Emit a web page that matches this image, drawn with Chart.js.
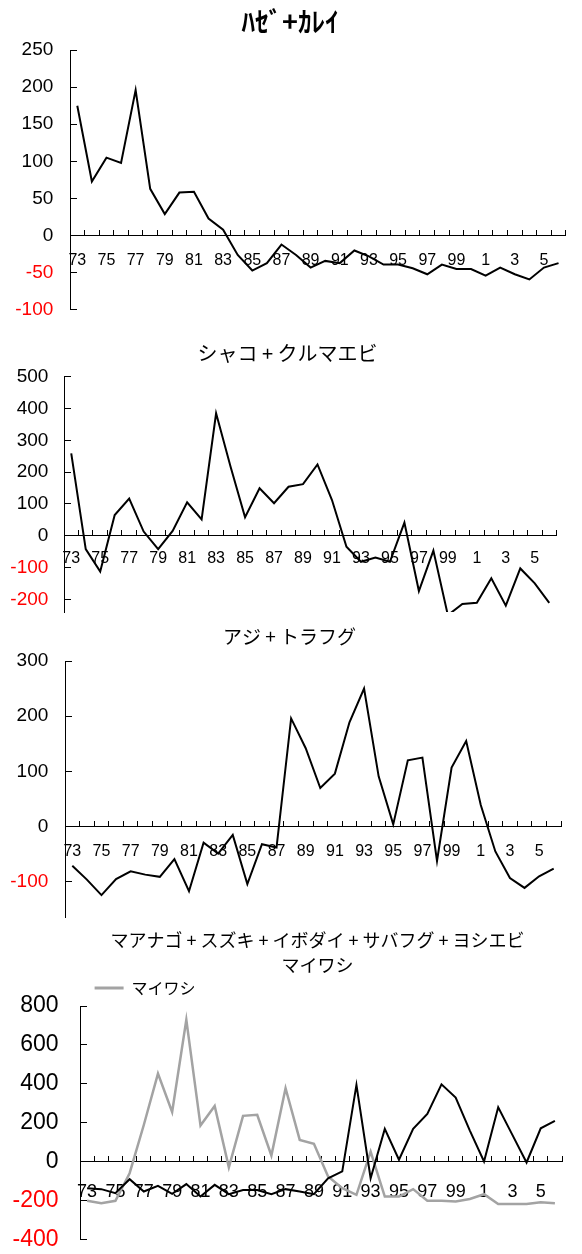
<!DOCTYPE html>
<html>
<head>
<meta charset="utf-8">
<script src="https://cdn.jsdelivr.net/npm/chart.js@4.4.1/dist/chart.umd.min.js"></script>
<style>
  html, body { margin: 0; padding: 0; background: #ffffff; overflow: hidden; }
  body { width: 582px; height: 1254px; position: relative; }
  canvas { position: absolute; left: 0; }
</style>
</head>
<body>
<canvas id="c1" width="580" height="345" style="top:0px"></canvas>
<canvas id="c2" width="575" height="321" style="top:325px"></canvas>
<canvas id="c3" width="579" height="328" style="top:625px"></canvas>
<canvas id="c4" width="635" height="357" style="top:925px"></canvas>
<script>
// ---- data (1973 .. 2006) ----
const years = ['73','74','75','76','77','78','79','80','81','82','83','84','85','86','87','88','89',
               '90','91','92','93','94','95','96','97','98','99','0','1','2','3','4','5','6'];

const hazeKarei = [175, 73, 105, 98, 196, 63, 29, 58, 59, 23, 8, -26, -47, -37, -12, -26, -43,
                   -34, -37, -20, -28, -39, -39, -44, -52, -39, -45, -45, -54, -43, -52, -59, -43, -37];

const shakoKurumaebi = [259, -42, -113, 65, 117, 13, -42, 15, 105, 51, 385, 217, 58, 149, 102, 154, 162,
                        224, 112, -35, -82, -69, -82, 41, -174, -47, -250, -215, -211, -134, -220, -103, -150, -211];

const ajiTorafugu = [-71, -96, -124, -95, -81, -87, -91, -59, -117, -29, -49, -15, -104, -32, -38, 196, 142,
                     70, 96, 189, 250, 91, 4, 120, 125, -62, 107, 155, 39, -45, -93, -111, -90, -76];

const anagoGroup = [-137, -142, -163, -91, -154, -125, -166, -116, -180, -120, -168, -146, -146, -168, -142, -154, -168,
                    -86, -51, 394, -86, 168, 9, 168, 245, 397, 329, 159, 0, 279, 137, -5, 171, 209];

const maiwashi = [-202, -214, -202, -60, 188, 452, 255, 729, 185, 286, -30, 235, 240, 31, 377, 111, 91,
                  -77, -137, -171, 51, -180, -180, -142, -202, -202, -205, -193, -168, -219, -219, -219, -209, -214];

// y-axis tick values
const yTicks1 = [-100, -50, 0, 50, 100, 150, 200, 250];
const yTicks2 = [-200, -100, 0, 100, 200, 300, 400, 500];
const yTicks3 = [-100, 0, 100, 200, 300];
const yTicks4 = [-400, -200, 0, 200, 400, 600, 800];

const titles = {
  c1: 'ﾊｾﾞ+ｶﾚｲ',
  c2: 'シャコ + クルマエビ',
  c3: 'アジ + トラフグ',
  c4: ['マアナゴ + スズキ + イボダイ + サバフグ + ヨシエビ', 'マイワシ']
};

// ---- helpers ----
const LAT = "'Liberation Sans', Arial, sans-serif";
const CJK = "'Noto Sans CJK JP', 'Noto Sans', sans-serif";
Chart.defaults.font.family = LAT;
Chart.defaults.color = '#000';

function lineDs(label, data, color, width) {
  return { label, data, borderColor: color, backgroundColor: color, borderWidth: width,
           pointRadius: 0, pointHoverRadius: 0, tension: 0, fill: false };
}

function build(id, o) {
  return new Chart(document.getElementById(id), {
    type: 'line',
    data: { labels: years, datasets: o.datasets },
    options: {
      responsive: false,
      animation: false,
      events: [],
      layout: { padding: { left: 0, right: 0, top: 0, bottom: o.bottomPad } },
      plugins: {
        legend: o.legend || { display: false },
        tooltip: { enabled: false },
        title: { display: true, text: o.title, color: '#000', font: o.titleFont, padding: o.titlePad }
      },
      scales: {
        x: {
          type: 'category',
          offset: true,
          position: { y: 0 },
          grid: { offset: true, drawOnChartArea: false, tickLength: -6, color: '#000', lineWidth: 1 },
          border: { display: true, color: '#000', width: 1 },
          ticks: {
            autoSkip: false, maxRotation: 0, minRotation: 0,
            padding: o.xPad, color: '#000',
            font: { family: LAT, size: o.xFont },
            callback: (v, i) => (i % 2 === 0 ? years[i] : '')
          }
        },
        y: {
          min: o.min, max: o.max,
          grid: { drawOnChartArea: false, tickLength: -7, color: '#000', lineWidth: 1 },
          border: { display: true, color: '#000', width: 1 },
          ticks: {
            autoSkip: false,
            padding: o.yPad,
            font: { family: LAT, size: o.yFont },
            color: c => (c.tick && c.tick.value < 0 ? '#ff0000' : '#000000')
          },
          afterBuildTicks: s => { s.ticks = o.yTicks.map(v => ({ value: v })); },
          afterFit: s => { s.width = o.yW; }
        },
        // empty right-hand spacer so the chart area ends where the reference plot ends
        spacer: {
          type: 'linear', position: 'right', display: true,
          grid: { display: false }, border: { display: false }, ticks: { display: false },
          afterFit: s => { s.width = o.rightW; }
        }
      }
    }
  });
}

// ---- chart 1 ----
build('c1', {
  title: titles.c1,
  titleFont: { family: CJK, size: 27, weight: 'bold', lineHeight: 1.2 },
  titlePad: { top: 5.8, bottom: 11.8 },
  bottomPad: 35,
  yW: 70, rightW: 4, min: -100, max: 250, yTicks: yTicks1, yFont: 19, yPad: 23.7,
  xFont: 16, xPad: 21.4,
  datasets: [lineDs('ハゼ+カレイ', hazeKarei, '#000', 2)]
});

// ---- chart 2 ----
build('c2', {
  title: titles.c2,
  titleFont: { family: CJK, size: 20, weight: 'normal', lineHeight: 1.2 },
  titlePad: { top: 16, bottom: 11.7 },
  bottomPad: 34,
  yW: 64, rightW: 18.5, min: -240, max: 500, yTicks: yTicks2, yFont: 19, yPad: 22.6,
  xFont: 16, xPad: 19.7,
  datasets: [lineDs('シャコ + クルマエビ', shakoKurumaebi, '#000', 2)]
});

// ---- chart 3 ----
build('c3', {
  title: titles.c3,
  titleFont: { family: CJK, size: 19, weight: 'normal', lineHeight: 1.2 },
  titlePad: { top: 0.6, bottom: 12.6 },
  bottomPad: 35.3,
  yW: 65, rightW: 18, min: -165, max: 300, yTicks: yTicks3, yFont: 19, yPad: 23.7,
  xFont: 16, xPad: 20.9,
  datasets: [lineDs('アジ + トラフグ', ajiTorafugu, '#000', 2)]
});

// ---- chart 4 ----
build('c4', {
  title: titles.c4,
  titleFont: { family: CJK, size: 18, weight: 'normal', lineHeight: 25 / 18 },
  titlePad: { top: 2.5, bottom: -12.1 },
  bottomPad: 42.7,
  yW: 80, rightW: 73, min: -400, max: 800, yTicks: yTicks4, yFont: 23, yPad: 28.4,
  xFont: 18, xPad: 25.2,
  legend: {
    display: true, position: 'top', align: 'start', fullSize: false,
    labels: {
      boxWidth: 29, boxHeight: 3, padding: 14.6, color: '#000',
      font: { family: CJK, size: 16 },
      filter: item => item.datasetIndex === 1,
      generateLabels: chart => Chart.defaults.plugins.legend.labels.generateLabels(chart)
        .map(l => Object.assign(l, { lineWidth: 0 }))
    }
  },
  datasets: [
    lineDs('マアナゴ + スズキ + イボダイ + サバフグ + ヨシエビ', anagoGroup, '#000', 2),
    lineDs('マイワシ', maiwashi, '#a3a3a3', 2.5)
  ]
});
</script>
</body>
</html>
